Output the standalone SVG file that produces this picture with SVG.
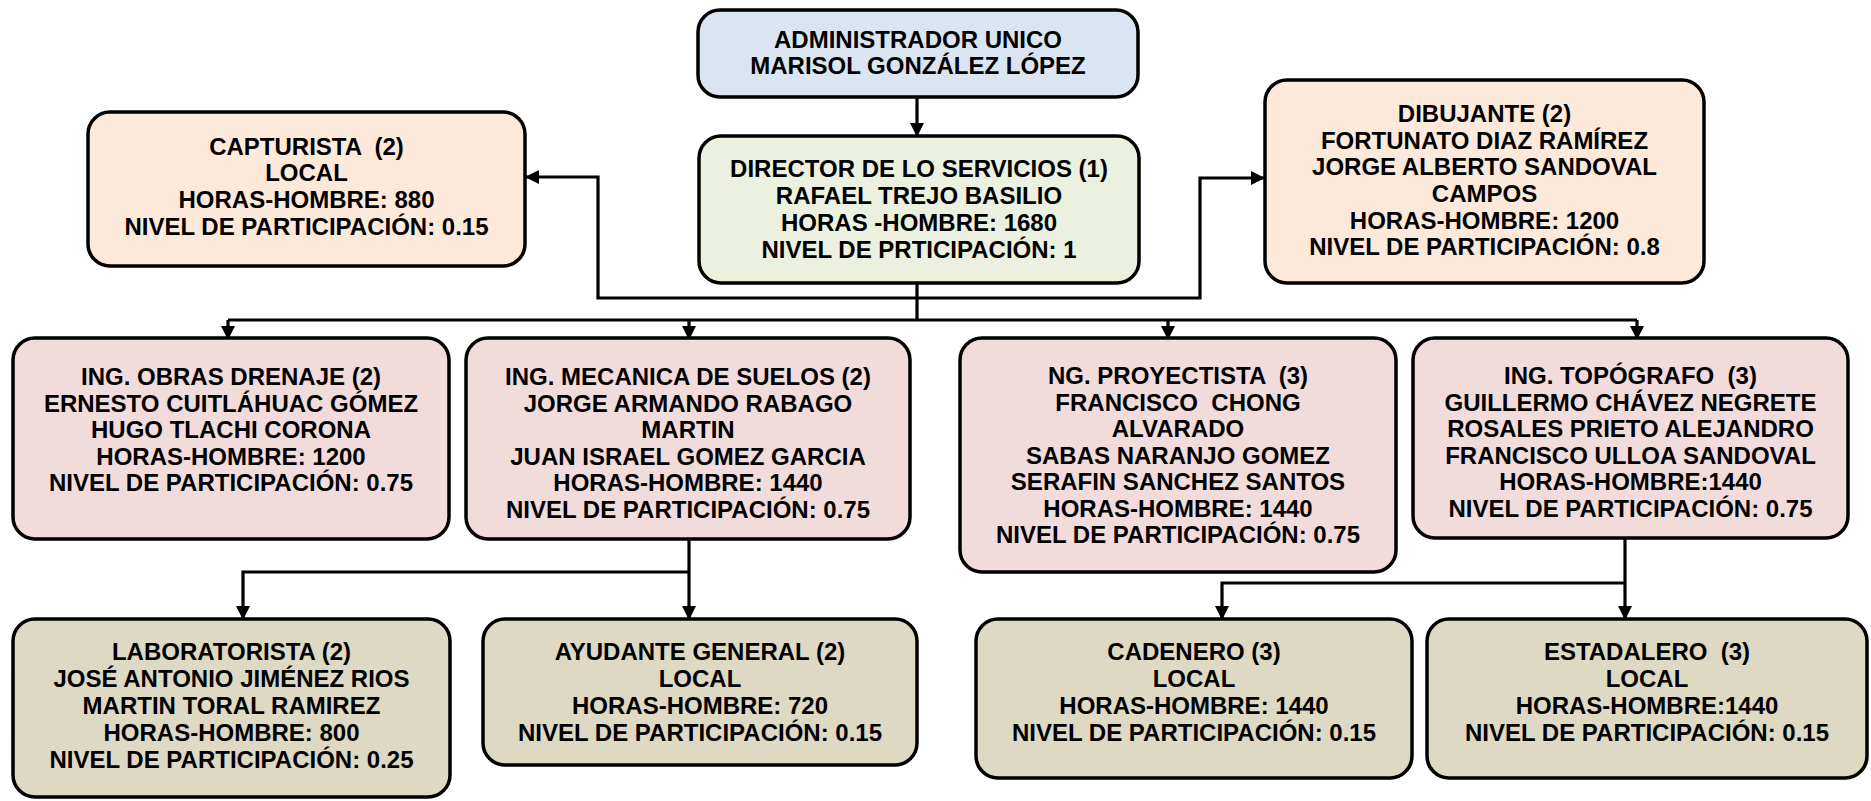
<svg xmlns="http://www.w3.org/2000/svg" width="1871" height="801" viewBox="0 0 1871 801">
<defs>
<style>
.box{stroke:#000;stroke-width:3.5}
.blue{fill:#dbe5f1}.green{fill:#ebf1de}.peach{fill:#fde9d9}.pink{fill:#f2dcdb}.tan{fill:#ddd9c3}
text{font-family:"Liberation Sans",Arial,sans-serif;font-weight:bold;font-size:24px;fill:#000;text-anchor:middle;white-space:pre}
.con{fill:none;stroke:#000;stroke-width:3.2}
.arr{marker-end:url(#ah)}
</style>
<marker id="ah" markerWidth="14" markerHeight="14" refX="13" refY="7" orient="auto" markerUnits="userSpaceOnUse"><path d="M0,0 L14,7 L0,14 z" fill="#000"/></marker>
</defs>
<rect width="1871" height="801" fill="#fff"/>
<g id="connectors">
<path class="con arr" d="M917 98 V136"/>
<path class="con" d="M917 283 V320 M228 320 H1637"/>
<path class="con arr" d="M228 320 V339"/>
<path class="con arr" d="M689 320 V339"/>
<path class="con arr" d="M1168 320 V339"/>
<path class="con arr" d="M1637 320 V339"/>
<path class="con arr" d="M917 298 H598 V177 H526"/>
<path class="con arr" d="M917 298 H1200 V178 H1264"/>
<path class="con arr" d="M689 539 V619"/>
<path class="con arr" d="M689 572 H243 V619"/>
<path class="con arr" d="M1625 538 V619"/>
<path class="con arr" d="M1625 583 H1222 V619"/>
</g>
<g id="admin">
<rect class="box blue" x="698" y="10" width="440" height="87" rx="22"/>
<text><tspan x="918" y="48">ADMINISTRADOR UNICO</tspan><tspan x="918" y="74">MARISOL GONZÁLEZ LÓPEZ</tspan></text>
</g>
<g id="director">
<rect class="box green" x="699" y="136" width="440" height="147" rx="22"/>
<text><tspan x="919" y="177">DIRECTOR DE LO SERVICIOS (1)</tspan><tspan x="919" y="204">RAFAEL TREJO BASILIO</tspan><tspan x="919" y="231">HORAS -HOMBRE: 1680</tspan><tspan x="919" y="258">NIVEL DE PRTICIPACIÓN: 1</tspan></text>
</g>
<g id="capturista">
<rect class="box peach" x="88" y="112" width="437" height="154" rx="22"/>
<text><tspan x="306.5" y="155">CAPTURISTA  (2)</tspan><tspan x="306.5" y="181">LOCAL</tspan><tspan x="306.5" y="208">HORAS-HOMBRE: 880</tspan><tspan x="306.5" y="235">NIVEL DE PARTICIPACIÓN: 0.15</tspan></text>
</g>
<g id="dibujante">
<rect class="box peach" x="1265" y="80" width="439" height="203" rx="22"/>
<text><tspan x="1484.5" y="122">DIBUJANTE (2)</tspan><tspan x="1484.5" y="148.5">FORTUNATO DIAZ RAMÍREZ</tspan><tspan x="1484.5" y="175">JORGE ALBERTO SANDOVAL</tspan><tspan x="1484.5" y="202">CAMPOS</tspan><tspan x="1484.5" y="228.5">HORAS-HOMBRE: 1200</tspan><tspan x="1484.5" y="255">NIVEL DE PARTICIPACIÓN: 0.8</tspan></text>
</g>
<g id="obras">
<rect class="box pink" x="13" y="338" width="436" height="201" rx="22"/>
<text><tspan x="231" y="385">ING. OBRAS DRENAJE (2)</tspan><tspan x="231" y="411.5">ERNESTO CUITLÁHUAC GÓMEZ</tspan><tspan x="231" y="438">HUGO TLACHI CORONA</tspan><tspan x="231" y="464.5">HORAS-HOMBRE: 1200</tspan><tspan x="231" y="491">NIVEL DE PARTICIPACIÓN: 0.75</tspan></text>
</g>
<g id="mecanica">
<rect class="box pink" x="466" y="338" width="444" height="201" rx="22"/>
<text><tspan x="688" y="385">ING. MECANICA DE SUELOS (2)</tspan><tspan x="688" y="411.5">JORGE ARMANDO RABAGO</tspan><tspan x="688" y="438">MARTIN</tspan><tspan x="688" y="464.5">JUAN ISRAEL GOMEZ GARCIA</tspan><tspan x="688" y="491">HORAS-HOMBRE: 1440</tspan><tspan x="688" y="517.5">NIVEL DE PARTICIPACIÓN: 0.75</tspan></text>
</g>
<g id="proyectista">
<rect class="box pink" x="960" y="338" width="436" height="234" rx="22"/>
<text><tspan x="1178" y="384">NG. PROYECTISTA  (3)</tspan><tspan x="1178" y="410.5">FRANCISCO  CHONG</tspan><tspan x="1178" y="437">ALVARADO</tspan><tspan x="1178" y="463.5">SABAS NARANJO GOMEZ</tspan><tspan x="1178" y="490">SERAFIN SANCHEZ SANTOS</tspan><tspan x="1178" y="516.5">HORAS-HOMBRE: 1440</tspan><tspan x="1178" y="543">NIVEL DE PARTICIPACIÓN: 0.75</tspan></text>
</g>
<g id="topografo">
<rect class="box pink" x="1413" y="338" width="435" height="200" rx="22"/>
<text><tspan x="1630.5" y="384">ING. TOPÓGRAFO  (3)</tspan><tspan x="1630.5" y="410.5">GUILLERMO CHÁVEZ NEGRETE</tspan><tspan x="1630.5" y="437">ROSALES PRIETO ALEJANDRO</tspan><tspan x="1630.5" y="463.5">FRANCISCO ULLOA SANDOVAL</tspan><tspan x="1630.5" y="490">HORAS-HOMBRE:1440</tspan><tspan x="1630.5" y="516.5">NIVEL DE PARTICIPACIÓN: 0.75</tspan></text>
</g>
<g id="laboratorista">
<rect class="box tan" x="13" y="619" width="437" height="178" rx="22"/>
<text><tspan x="231.5" y="660">LABORATORISTA (2)</tspan><tspan x="231.5" y="687">JOSÉ ANTONIO JIMÉNEZ RIOS</tspan><tspan x="231.5" y="714">MARTIN TORAL RAMIREZ</tspan><tspan x="231.5" y="741">HORAS-HOMBRE: 800</tspan><tspan x="231.5" y="768">NIVEL DE PARTICIPACIÓN: 0.25</tspan></text>
</g>
<g id="ayudante">
<rect class="box tan" x="483" y="619" width="434" height="146" rx="22"/>
<text><tspan x="700" y="660">AYUDANTE GENERAL (2)</tspan><tspan x="700" y="687">LOCAL</tspan><tspan x="700" y="714">HORAS-HOMBRE: 720</tspan><tspan x="700" y="741">NIVEL DE PARTICIPACIÓN: 0.15</tspan></text>
</g>
<g id="cadenero">
<rect class="box tan" x="976" y="619" width="436" height="159" rx="22"/>
<text><tspan x="1194" y="660">CADENERO (3)</tspan><tspan x="1194" y="687">LOCAL</tspan><tspan x="1194" y="714">HORAS-HOMBRE: 1440</tspan><tspan x="1194" y="741">NIVEL DE PARTICIPACIÓN: 0.15</tspan></text>
</g>
<g id="estadalero">
<rect class="box tan" x="1427" y="619" width="440" height="159" rx="22"/>
<text><tspan x="1647" y="660">ESTADALERO  (3)</tspan><tspan x="1647" y="687">LOCAL</tspan><tspan x="1647" y="714">HORAS-HOMBRE:1440</tspan><tspan x="1647" y="741">NIVEL DE PARTICIPACIÓN: 0.15</tspan></text>
</g>
</svg>
